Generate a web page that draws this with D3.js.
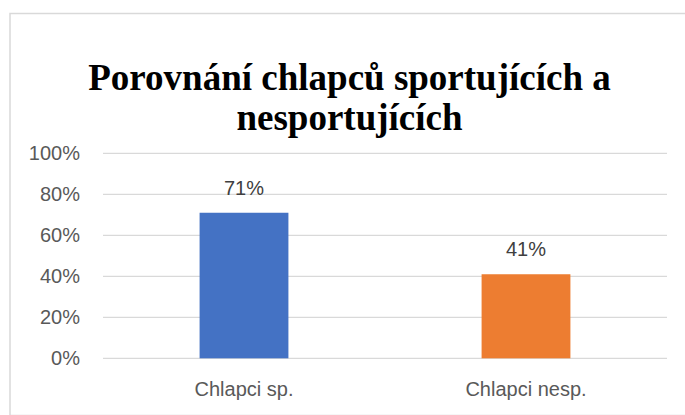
<!DOCTYPE html>
<html><head><meta charset="utf-8">
<script src="https://cdn.jsdelivr.net/npm/d3@7"></script>
<style>html,body{margin:0;padding:0;background:#fff;}</style>
</head><body>
<script>
const categories = ["Chlapci sp.", "Chlapci nesp."];
const values = [0.71, 0.41];
const valueLabels = ["71%", "41%"];
const colors = ["#4472C4", "#ED7D31"];
const tickValues = [0, 0.2, 0.4, 0.6, 0.8, 1.0];
const titleLines = ["Porovnání chlapců sportujících a", "nesportujících"];

const W = 685, H = 415;
const svg = d3.select("body").append("svg").attr("width", W).attr("height", H);
svg.append("rect").attr("x", 10).attr("y", 13.5).attr("width", W - 9).attr("height", H - 13)
  .attr("fill", "#fff").attr("stroke", "#d9d9d9").attr("stroke-width", 1.5);

const plot = {left: 103, right: 667, top: 153.3, bottom: 358.3};
const y = d3.scaleLinear().domain([0, 1]).range([plot.bottom, plot.top]);
const x = d3.scaleBand().domain(categories).range([plot.left, plot.right]).paddingInner(0.685).paddingOuter(0.3425);

const font = "Liberation Sans, Arial, sans-serif";
const yAxis = d3.axisLeft(y).tickValues(tickValues).tickFormat(d3.format(".0%")).tickSize(0).tickPadding(23);
const gy = svg.append("g").attr("transform", `translate(${plot.left},0)`).call(yAxis);
gy.select(".domain").remove();
gy.selectAll("text").attr("font-family", font).attr("font-size", 20).attr("fill", "#595959");

svg.append("g").selectAll("line").data(tickValues).join("line")
  .attr("x1", plot.left).attr("x2", plot.right)
  .attr("y1", d => y(d)).attr("y2", d => y(d))
  .attr("stroke", "#d9d9d9").attr("stroke-width", 1.3);

svg.append("g").selectAll("rect").data(values).join("rect")
  .attr("x", (d, i) => x(categories[i])).attr("width", x.bandwidth())
  .attr("y", d => y(d)).attr("height", d => y(0) - y(d))
  .attr("fill", (d, i) => colors[i]);

svg.append("g").selectAll("text").data(values).join("text")
  .attr("x", (d, i) => x(categories[i]) + x.bandwidth() / 2)
  .attr("y", d => y(d) - 18)
  .attr("text-anchor", "middle")
  .attr("font-family", font).attr("font-size", 20).attr("fill", "#404040")
  .text((d, i) => valueLabels[i]);

const xAxis = d3.axisBottom(x).tickSize(0).tickPadding(24);
const gx = svg.append("g").attr("transform", `translate(0,${plot.bottom})`).call(xAxis);
gx.select(".domain").remove();
gx.selectAll("text").attr("font-family", font).attr("font-size", 20).attr("fill", "#595959");

svg.append("g").selectAll("text").data(titleLines).join("text")
  .attr("x", 349.5).attr("y", (d, i) => 90 + i * 40)
  .attr("text-anchor", "middle")
  .attr("font-family", "Liberation Serif, Times New Roman, serif").attr("font-weight", "bold")
  .attr("font-size", 37).attr("fill", "#000")
  .text(d => d);
</script>
</body></html>
